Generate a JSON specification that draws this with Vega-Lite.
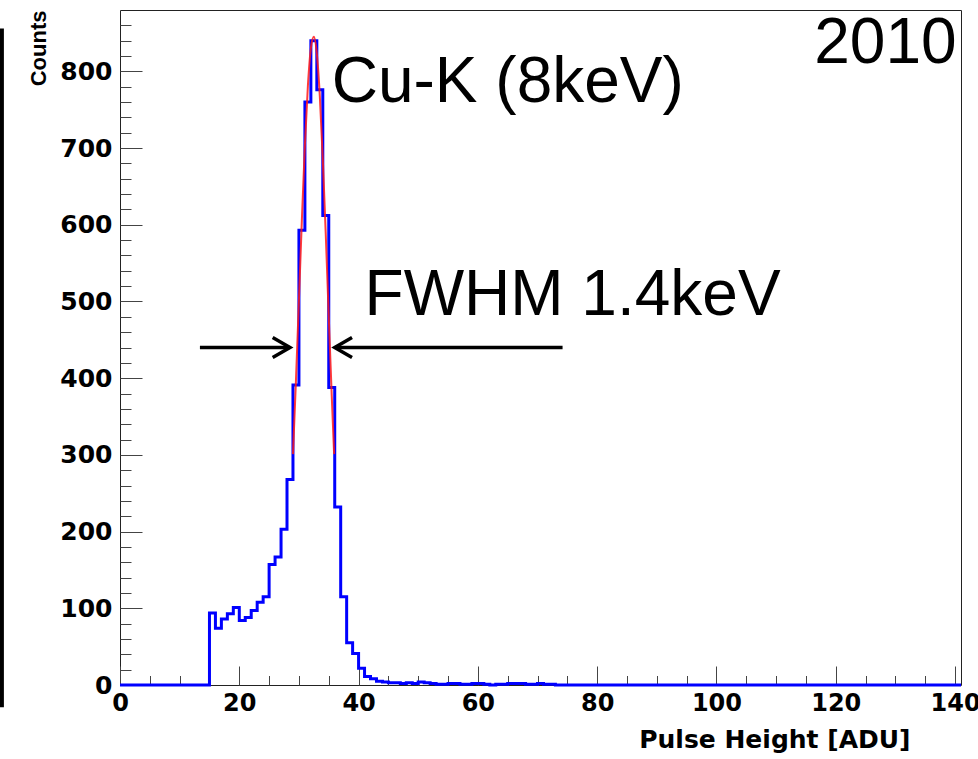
{
  "$schema": "https://vega.github.io/schema/vega-lite/v6.json",
  "width": 841,
  "height": 675,
  "autosize": {"type": "none"},
  "padding": {"left": 120, "top": 10, "right": 17, "bottom": 74},
  "background": "white",
  "config": {
    "view": {"stroke": "#222", "strokeWidth": 1},
    "axis": {"grid": false, "domain": false, "labelColor": "#000", "titleColor": "#000"}
  },
  "datasets": {
    "hist": [
      {"x":0,"c":0},{"x":1,"c":0},{"x":2,"c":0},{"x":3,"c":0},{"x":4,"c":0},{"x":5,"c":0},{"x":6,"c":0},{"x":7,"c":0},{"x":8,"c":0},{"x":9,"c":0},
      {"x":10,"c":0},{"x":11,"c":0},{"x":12,"c":0},{"x":13,"c":0},{"x":14,"c":0},{"x":15,"c":94},{"x":16,"c":74},{"x":17,"c":86},{"x":18,"c":93},{"x":19,"c":101},
      {"x":20,"c":84},{"x":21,"c":88},{"x":22,"c":97},{"x":23,"c":108},{"x":24,"c":115},{"x":25,"c":157},{"x":26,"c":167},{"x":27,"c":203},{"x":28,"c":268},{"x":29,"c":391},
      {"x":30,"c":593},{"x":31,"c":760},{"x":32,"c":840},{"x":33,"c":776},{"x":34,"c":612},{"x":35,"c":388},{"x":36,"c":232},{"x":37,"c":115},{"x":38,"c":55},{"x":39,"c":41},
      {"x":40,"c":22},{"x":41,"c":11},{"x":42,"c":8},{"x":43,"c":5},{"x":44,"c":4},{"x":45,"c":3},{"x":46,"c":3},{"x":47,"c":2},{"x":48,"c":3},{"x":49,"c":2},
      {"x":50,"c":4},{"x":51,"c":3},{"x":52,"c":2},{"x":53,"c":1},{"x":54,"c":1},{"x":55,"c":2},{"x":56,"c":2},{"x":57,"c":1},{"x":58,"c":1},{"x":59,"c":2},
      {"x":60,"c":2},{"x":61,"c":1},{"x":62,"c":0},{"x":63,"c":1},{"x":64,"c":1},{"x":65,"c":2},{"x":66,"c":2},{"x":67,"c":2},{"x":68,"c":1},{"x":69,"c":1},
      {"x":70,"c":2},{"x":71,"c":1},{"x":72,"c":1},{"x":73,"c":0},{"x":74,"c":0},{"x":75,"c":0},{"x":76,"c":0},{"x":77,"c":0},{"x":78,"c":0},{"x":79,"c":0},
      {"x":80,"c":0},{"x":81,"c":0},{"x":82,"c":0},{"x":83,"c":0},{"x":84,"c":0},{"x":85,"c":0},{"x":86,"c":0},{"x":87,"c":0},{"x":88,"c":0},{"x":89,"c":0},
      {"x":90,"c":0},{"x":91,"c":0},{"x":92,"c":0},{"x":93,"c":0},{"x":94,"c":0},{"x":95,"c":0},{"x":96,"c":0},{"x":97,"c":0},{"x":98,"c":0},{"x":99,"c":0},
      {"x":100,"c":0},{"x":101,"c":0},{"x":102,"c":0},{"x":103,"c":0},{"x":104,"c":0},{"x":105,"c":0},{"x":106,"c":0},{"x":107,"c":0},{"x":108,"c":0},{"x":109,"c":0},
      {"x":110,"c":0},{"x":111,"c":0},{"x":112,"c":0},{"x":113,"c":0},{"x":114,"c":0},{"x":115,"c":0},{"x":116,"c":0},{"x":117,"c":0},{"x":118,"c":0},{"x":119,"c":0},
      {"x":120,"c":0},{"x":121,"c":0},{"x":122,"c":0},{"x":123,"c":0},{"x":124,"c":0},{"x":125,"c":0},{"x":126,"c":0},{"x":127,"c":0},{"x":128,"c":0},{"x":129,"c":0},
      {"x":130,"c":0},{"x":131,"c":0},{"x":132,"c":0},{"x":133,"c":0},{"x":134,"c":0},{"x":135,"c":0},{"x":136,"c":0},{"x":137,"c":0},{"x":138,"c":0},{"x":139,"c":0},
      {"x":140,"c":0},{"x":141,"c":0}
    ],
    "fit": [
      {"x":29.0,"f":301},{"x":29.5,"f":397},{"x":30.0,"f":502},{"x":30.5,"f":608},{"x":31.0,"f":704},{"x":31.5,"f":781},{"x":32.0,"f":830},
      {"x":32.5,"f":845},{"x":33.0,"f":823},{"x":33.5,"f":768},{"x":34.0,"f":686},{"x":34.5,"f":587},{"x":35.0,"f":480},{"x":35.5,"f":377},{"x":35.9,"f":301}
    ],
    "labels": [
      {"x":35.5,"y":760,"t":"Cu-K (8keV)"},
      {"x":41.0,"y":483,"t":"FWHM 1.4keV"},
      {"x":116.4,"y":811,"t":"2010"}
    ],
    "arrows": [
      {"a":"L1","o":0,"x":13.4,"y":440},{"a":"L1","o":1,"x":28.4,"y":440},
      {"a":"L2","o":0,"x":25.6,"y":453},{"a":"L2","o":1,"x":28.5,"y":440},{"a":"L2","o":2,"x":25.6,"y":427},
      {"a":"R1","o":0,"x":36.1,"y":440},{"a":"R1","o":1,"x":74.2,"y":440},
      {"a":"R2","o":0,"x":38.9,"y":453},{"a":"R2","o":1,"x":36.0,"y":440},{"a":"R2","o":2,"x":38.9,"y":427}
    ],
    "bar": [{"x":-19.8,"y":-29,"y2":856}]
  },
  "layer": [
    {
      "data": {"name": "hist"},
      "mark": {"type": "line", "interpolate": "step-after", "color": "#0000ff", "strokeWidth": 3},
      "encoding": {
        "x": {"field": "x", "type": "quantitative", "scale": {"domain": [0, 141], "nice": false, "zero": false},
          "axis": {"orient": "bottom", "values": [0,20,40,60,80,100,120,140], "ticks": false, "labelPadding": 6,
            "labelFont": "DejaVu Sans", "labelFontWeight": "bold", "labelFontSize": 24, "labelFlush": false,
            "title": "Pulse Height [ADU]", "titleFont": "DejaVu Sans", "titleFontWeight": "bold", "titleFontSize": 25,
            "titleAnchor": null, "titleAlign": "right", "titleX": 790, "titleY": 62, "titleBaseline": "alphabetic"}},
        "y": {"field": "c", "type": "quantitative", "scale": {"domain": [0, 880], "nice": false},
          "axis": {"orient": "left", "values": [0,100,200,300,400,500,600,700,800], "ticks": false, "labelPadding": 8,
            "labelFont": "DejaVu Sans", "labelFontWeight": "bold", "labelFontSize": 25, "labelFlush": false,
            "title": "Counts", "titleFont": "Liberation Sans", "titleFontWeight": "bold", "titleFontSize": 22,
            "titleAngle": 270, "titleAnchor": null, "titleAlign": "right", "titleX": -75, "titleY": 0, "titleBaseline": "alphabetic"}}
      }
    },
    {
      "data": {"name": "fit"},
      "mark": {"type": "line", "interpolate": "monotone", "color": "#ff1a1a", "strokeWidth": 2, "opacity": 0.85},
      "encoding": {
        "x": {"field": "x", "type": "quantitative",
          "axis": {"orient": "bottom", "values": [0,20,40,60,80,100,120,140], "labels": false, "tickSize": -19, "tickColor": "#444", "title": null}},
        "y": {"field": "f", "type": "quantitative",
          "axis": {"orient": "left", "values": [0,100,200,300,400,500,600,700,800], "labels": false, "tickSize": -22, "tickColor": "#444", "title": null}}
      }
    },
    {
      "data": {"name": "bar"},
      "mark": {"type": "rule", "color": "#000", "strokeWidth": 4, "clip": false},
      "encoding": {
        "x": {"field": "x", "type": "quantitative",
          "axis": {"orient": "bottom", "values": [5,10,15,25,30,35,45,50,55,65,70,75,85,90,95,105,110,115,125,130,135], "labels": false, "tickSize": -9.5, "tickColor": "#444", "title": null}},
        "y": {"field": "y", "type": "quantitative",
          "axis": {"orient": "left", "values": [20,40,60,80,120,140,160,180,220,240,260,280,320,340,360,380,420,440,460,480,520,540,560,580,620,640,660,680,720,740,760,780,820,840,860], "labels": false, "tickSize": -11, "tickColor": "#444", "title": null}},
        "y2": {"field": "y2"}
      }
    },
    {
      "data": {"name": "arrows"},
      "mark": {"type": "line", "color": "#000", "strokeWidth": 3.5, "strokeCap": "butt", "strokeJoin": "miter"},
      "encoding": {
        "x": {"field": "x", "type": "quantitative", "axis": null},
        "y": {"field": "y", "type": "quantitative", "axis": null},
        "detail": {"field": "a"},
        "order": {"field": "o"}
      }
    },
    {
      "data": {"name": "labels"},
      "mark": {"type": "text", "align": "left", "baseline": "alphabetic", "font": "Liberation Sans", "fontSize": 64, "color": "#000"},
      "encoding": {
        "x": {"field": "x", "type": "quantitative", "axis": null},
        "y": {"field": "y", "type": "quantitative", "axis": null},
        "text": {"field": "t"}
      }
    }
  ],
  "resolve": {"axis": {"x": "independent", "y": "independent"}}
}
